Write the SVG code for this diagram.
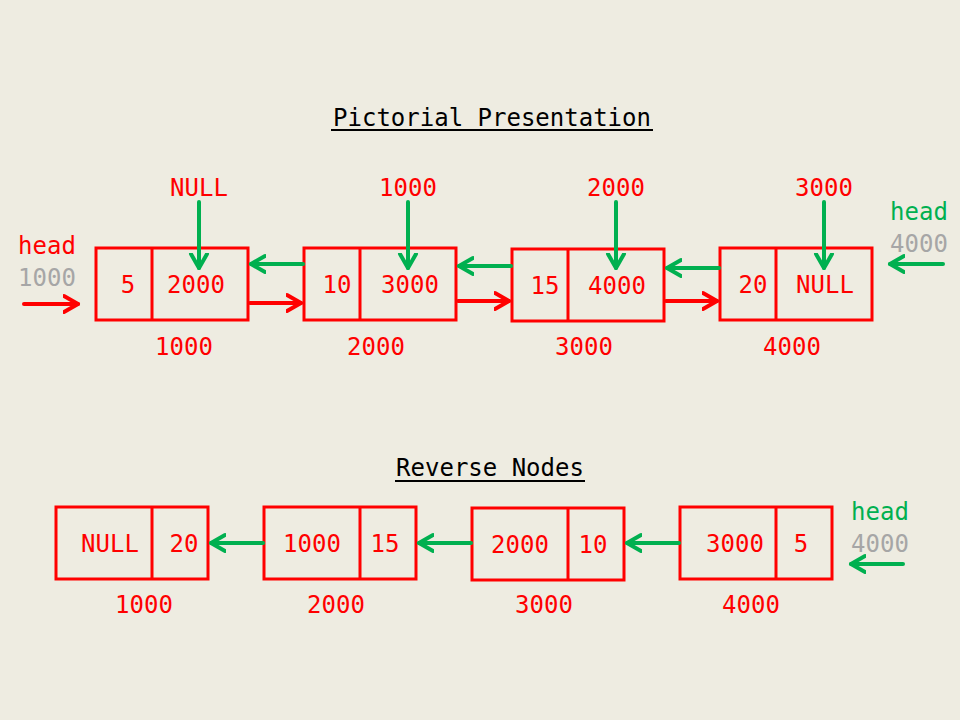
<svg xmlns="http://www.w3.org/2000/svg" width="960" height="720" viewBox="0 0 960 720">
<style>
text{font-family:"DejaVu Sans Mono","Liberation Mono",monospace;font-size:24px;text-anchor:middle}
.r{fill:#FF0000}
.g{fill:#00B050}
.gy{fill:#A6A6A6}
.k{fill:#000000}
.box{fill:none;stroke:#FF0000;stroke-width:3}
.ga{fill:none;stroke:#00B050;stroke-width:4;stroke-linecap:round}
.ra{fill:none;stroke:#FF0000;stroke-width:4;stroke-linecap:round}
</style>
<defs>
<marker id="mg" markerUnits="userSpaceOnUse" markerWidth="30" markerHeight="30" refX="15" refY="15" orient="auto" viewBox="0 0 30 30">
<path d="M1,7 L15,15 L1,23" fill="none" stroke="#00B050" stroke-width="4" stroke-linecap="round" stroke-linejoin="round"/>
</marker>
<marker id="mr" markerUnits="userSpaceOnUse" markerWidth="30" markerHeight="30" refX="15" refY="15" orient="auto" viewBox="0 0 30 30">
<path d="M1,7 L15,15 L1,23" fill="none" stroke="#FF0000" stroke-width="4" stroke-linecap="round" stroke-linejoin="round"/>
</marker>
</defs>
<rect width="960" height="720" fill="#EEECE1"/>
<g id="title1">
<text x="492" y="126" class="k">Pictorial Presentation</text>
<line x1="331" y1="130" x2="653" y2="130" stroke="#000" stroke-width="2"/>
</g>
<g id="title2">
<text x="490" y="476" class="k">Reverse Nodes</text>
<line x1="395" y1="481" x2="585" y2="481" stroke="#000" stroke-width="2"/>
</g>
<g id="head-left">
<text x="47" y="254" class="r">head</text>
<text x="47" y="286" class="gy">1000</text>
</g>
<g id="head-right">
<text x="919" y="220" class="g">head</text>
<text x="919" y="252" class="gy">4000</text>
</g>
<g id="head-bottom">
<text x="880" y="520" class="g">head</text>
<text x="880" y="552" class="gy">4000</text>
</g>
<g id="n1">
<rect x="96" y="248" width="152" height="72" class="box"/>
<line x1="152" y1="248" x2="152" y2="320" class="box"/>
<text x="128" y="293" class="r">5</text>
<text x="196" y="293" class="r">2000</text>
<text x="199" y="196" class="r">NULL</text>
<text x="184" y="355" class="r">1000</text>
</g>
<g id="n2">
<rect x="304" y="248" width="152" height="72" class="box"/>
<line x1="360" y1="248" x2="360" y2="320" class="box"/>
<text x="337" y="293" class="r">10</text>
<text x="410" y="293" class="r">3000</text>
<text x="408" y="196" class="r">1000</text>
<text x="376" y="355" class="r">2000</text>
</g>
<g id="n3">
<rect x="512" y="249" width="152" height="72" class="box"/>
<line x1="568" y1="249" x2="568" y2="321" class="box"/>
<text x="545" y="294" class="r">15</text>
<text x="617" y="294" class="r">4000</text>
<text x="616" y="196" class="r">2000</text>
<text x="584" y="355" class="r">3000</text>
</g>
<g id="n4">
<rect x="720" y="248" width="152" height="72" class="box"/>
<line x1="776" y1="248" x2="776" y2="320" class="box"/>
<text x="753" y="293" class="r">20</text>
<text x="825" y="293" class="r">NULL</text>
<text x="824" y="196" class="r">3000</text>
<text x="792" y="355" class="r">4000</text>
</g>
<g id="r1">
<rect x="56" y="507" width="152" height="72" class="box"/>
<line x1="152" y1="507" x2="152" y2="579" class="box"/>
<text x="110" y="552" class="r">NULL</text>
<text x="184" y="552" class="r">20</text>
<text x="144" y="613" class="r">1000</text>
</g>
<g id="r2">
<rect x="264" y="507" width="152" height="72" class="box"/>
<line x1="360" y1="507" x2="360" y2="579" class="box"/>
<text x="312" y="552" class="r">1000</text>
<text x="385" y="552" class="r">15</text>
<text x="336" y="613" class="r">2000</text>
</g>
<g id="r3">
<rect x="472" y="508" width="152" height="72" class="box"/>
<line x1="568" y1="508" x2="568" y2="580" class="box"/>
<text x="520" y="553" class="r">2000</text>
<text x="593" y="553" class="r">10</text>
<text x="544" y="613" class="r">3000</text>
</g>
<g id="r4">
<rect x="680" y="507" width="152" height="72" class="box"/>
<line x1="776" y1="507" x2="776" y2="579" class="box"/>
<text x="735" y="552" class="r">3000</text>
<text x="801" y="552" class="r">5</text>
<text x="751" y="613" class="r">4000</text>
</g>
<g id="connectors">
<line x1="24" y1="304" x2="78" y2="304" class="ra" marker-end="url(#mr)"/>
<line x1="943" y1="264" x2="890" y2="264" class="ga" marker-end="url(#mg)"/>
<line x1="199" y1="202" x2="199" y2="268" class="ga" marker-end="url(#mg)"/>
<line x1="408" y1="202" x2="408" y2="268" class="ga" marker-end="url(#mg)"/>
<line x1="616" y1="202" x2="616" y2="268" class="ga" marker-end="url(#mg)"/>
<line x1="824" y1="202" x2="824" y2="268" class="ga" marker-end="url(#mg)"/>
<line x1="303" y1="264" x2="251" y2="264" class="ga" marker-end="url(#mg)"/>
<line x1="511" y1="266" x2="459" y2="266" class="ga" marker-end="url(#mg)"/>
<line x1="719" y1="268" x2="667" y2="268" class="ga" marker-end="url(#mg)"/>
<line x1="250" y1="303" x2="301" y2="303" class="ra" marker-end="url(#mr)"/>
<line x1="458" y1="301" x2="509" y2="301" class="ra" marker-end="url(#mr)"/>
<line x1="666" y1="301" x2="717" y2="301" class="ra" marker-end="url(#mr)"/>
<line x1="263" y1="543" x2="211" y2="543" class="ga" marker-end="url(#mg)"/>
<line x1="471" y1="543" x2="419" y2="543" class="ga" marker-end="url(#mg)"/>
<line x1="679" y1="543" x2="627" y2="543" class="ga" marker-end="url(#mg)"/>
<line x1="903" y1="564" x2="851" y2="564" class="ga" marker-end="url(#mg)"/>
</g>
</svg>
